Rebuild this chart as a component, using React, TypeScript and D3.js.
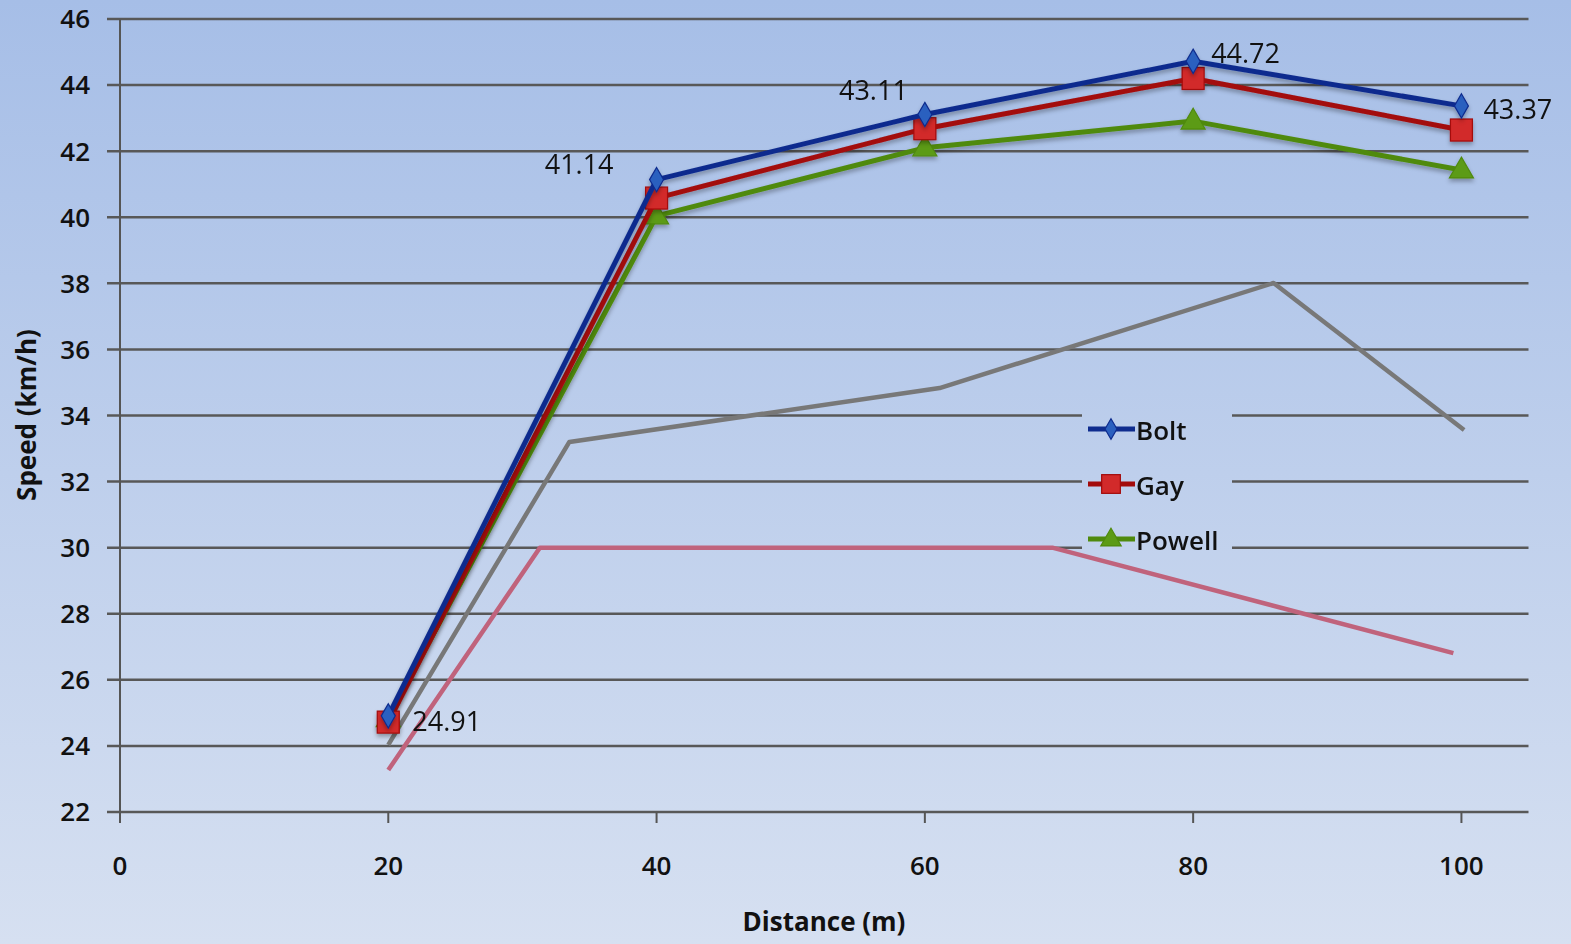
import React, { useEffect } from "react";
import * as d3 from "d3";

const distances = [20, 40, 60, 80, 100];
const boltSpeeds = [24.91, 41.14, 43.11, 44.72, 43.37];
const gaySpeeds = [24.72, 40.58, 42.68, 44.2, 42.64];
const powellSpeeds = [24.82, 40.04, 42.1, 42.91, 41.43];

const grayX = [20, 33.5, 61.1, 86.0, 100.2];
const grayY = [24.03, 33.2, 34.83, 38.01, 33.56];
const pinkX = [20, 31.3, 69.5, 99.4];
const pinkY = [23.27, 30.0, 30.0, 26.81];

const xTicks = [0, 20, 40, 60, 80, 100];
const yTicks = [22, 24, 26, 28, 30, 32, 34, 36, 38, 40, 42, 44, 46];

const seriesNames = ["Bolt", "Gay", "Powell"];
const labelIndexes = [0, 1, 2, 3, 4];

const W = 1571;
const H = 944;
const FONT = "'Open Sans', Lato, 'DejaVu Sans', sans-serif";

const x = d3.scaleLinear().domain([0, 105]).range([120, 1528.5]);
const y = d3.scaleLinear().domain([22, 46]).range([812, 19]);

type Pt = [number, number];

const lineGen = d3
  .line<Pt>()
  .x((d) => x(d[0]))
  .y((d) => y(d[1]));

const series = [
  { name: seriesNames[0], values: boltSpeeds, line: "#0f2c8e", fill: "#2b60bf", marker: "diamond" },
  { name: seriesNames[1], values: gaySpeeds, line: "#a30b0b", fill: "#d22a2a", marker: "square" },
  { name: seriesNames[2], values: powellSpeeds, line: "#4f8a0d", fill: "#5c9b16", marker: "triangle" },
];

// label placement relative to each Bolt point [dx, dy, anchor]
const labelPlacement: [number, number, string][] = [
  [24, 5, "start"],
  [-43, -15, "end"],
  [-17, -24, "end"],
  [18, -8, "start"],
  [22, 3, "start"],
];

function Marker({ kind, cx, cy, fill, stroke, scale = 1 }: { kind: string; cx: number; cy: number; fill: string; stroke: string; scale?: number }) {
  if (kind === "diamond") {
    const s = d3.symbol().type(d3.symbolDiamond).size(170 * scale * scale)();
    return <path d={s || ""} transform={`translate(${cx},${cy})`} fill={fill} stroke={stroke} strokeWidth={1.2} />;
  }
  if (kind === "square") {
    const h = 11 * scale;
    return <rect x={cx - h} y={cy - h} width={2 * h} height={2 * h} fill={fill} stroke={stroke} strokeWidth={1.2} />;
  }
  const s = d3.symbol().type(d3.symbolTriangle).size(250 * scale * scale)();
  return <path d={s || ""} transform={`translate(${cx},${cy + 1})`} fill={fill} stroke={stroke} strokeWidth={1.2} />;
}

export default function App() {
  useEffect(() => {
    document.body.style.margin = "0";
  }, []);

  const grayPts: Pt[] = grayX.map((v, i) => [v, grayY[i]]);
  const pinkPts: Pt[] = pinkX.map((v, i) => [v, pinkY[i]]);

  const legendX = 1088;
  const legendYs = [429, 484, 539];

  return (
    <svg width={W} height={H} style={{ display: "block" }} fontFamily={FONT}>
      <defs>
        <linearGradient id="bg" gradientUnits="userSpaceOnUse" x1="0" y1="0" x2="0" y2={H}>
          <stop offset="0" stopColor="#a6bee7" />
          <stop offset="1" stopColor="#d6e0f1" />
        </linearGradient>
        <filter id="shadow" x="-10%" y="-10%" width="120%" height="130%">
          <feDropShadow dx="0" dy="3" stdDeviation="2" floodColor="#000" floodOpacity="0.3" />
        </filter>
      </defs>
      <rect x={0} y={0} width={W} height={H} fill="url(#bg)" />

      {/* gridlines */}
      {yTicks.map((t) => (
        <line key={t} x1={107} x2={1528.5} y1={y(t)} y2={y(t)} stroke="#585858" strokeWidth={2.5} />
      ))}
      {/* y axis */}
      <line x1={120} x2={120} y1={y(46)} y2={823} stroke="#555" strokeWidth={2} />
      {/* x ticks */}
      {xTicks.map((t) => (
        <line key={t} x1={x(t)} x2={x(t)} y1={812} y2={823} stroke="#555" strokeWidth={2} />
      ))}

      {/* y tick labels */}
      {yTicks.map((t) => (
        <text key={t} x={90} y={y(t)} dy="0.36em" textAnchor="end" fontSize={26} fontWeight={600} fill="#111">
          {t}
        </text>
      ))}
      {/* x tick labels */}
      {xTicks.map((t) => (
        <text key={t} x={x(t)} y={866} dy="0.36em" textAnchor="middle" fontSize={26} fontWeight={600} fill="#111">
          {t}
        </text>
      ))}

      {/* axis titles */}
      <text x={824} y={922} dy="0.36em" textAnchor="middle" fontSize={26} fontWeight={700} fill="#111">
        Distance (m)
      </text>
      <text
        transform={`translate(27,415) rotate(-90)`}
        dy="0.36em"
        textAnchor="middle"
        fontSize={26}
        fontWeight={700}
        fill="#111"
      >
        Speed (km/h)
      </text>

      {/* legend background */}
      <rect x={1082} y={398} width={150} height={156} fill="url(#bg)" />

      {/* reference lines */}
      <path d={lineGen(grayPts) || ""} fill="none" stroke="#787878" strokeWidth={4.5} strokeLinejoin="round" />
      <path d={lineGen(pinkPts) || ""} fill="none" stroke="#c0637c" strokeWidth={4.5} strokeLinejoin="round" />

      {/* series */}
      {series
        .slice()
        .reverse()
        .map((s) => {
          const pts: Pt[] = distances.map((d, i) => [d, s.values[i]]);
          return (
            <g key={s.name} filter="url(#shadow)">
              <path d={lineGen(pts) || ""} fill="none" stroke={s.line} strokeWidth={5} strokeLinejoin="round" />
              {pts.map((p, i) => (
                <Marker key={i} kind={s.marker} cx={x(p[0])} cy={y(p[1])} fill={s.fill} stroke={s.line} />
              ))}
            </g>
          );
        })}

      {/* data labels for Bolt */}
      {labelIndexes.map((i) => {
        const [dx, dy, anchor] = labelPlacement[i];
        return (
          <text
            key={i}
            x={x(distances[i]) + dx}
            y={y(boltSpeeds[i]) + dy}
            dy="0.36em"
            textAnchor={anchor as any}
            fontSize={27}
            fontWeight={500}
            fill="#111"
          >
            {boltSpeeds[i].toFixed(2)}
          </text>
        );
      })}

      {/* legend */}
      {series.map((s, i) => (
        <g key={s.name}>
          <line x1={legendX} x2={legendX + 47} y1={legendYs[i]} y2={legendYs[i]} stroke={s.line} strokeWidth={5} />
          <Marker kind={s.marker} cx={legendX + 23} cy={legendYs[i]} fill={s.fill} stroke={s.line} scale={0.85} />
          <text x={legendX + 48} y={legendYs[i] + 2} dy="0.36em" fontSize={26} fontWeight={600} fill="#111">
            {s.name}
          </text>
        </g>
      ))}
    </svg>
  );
}
